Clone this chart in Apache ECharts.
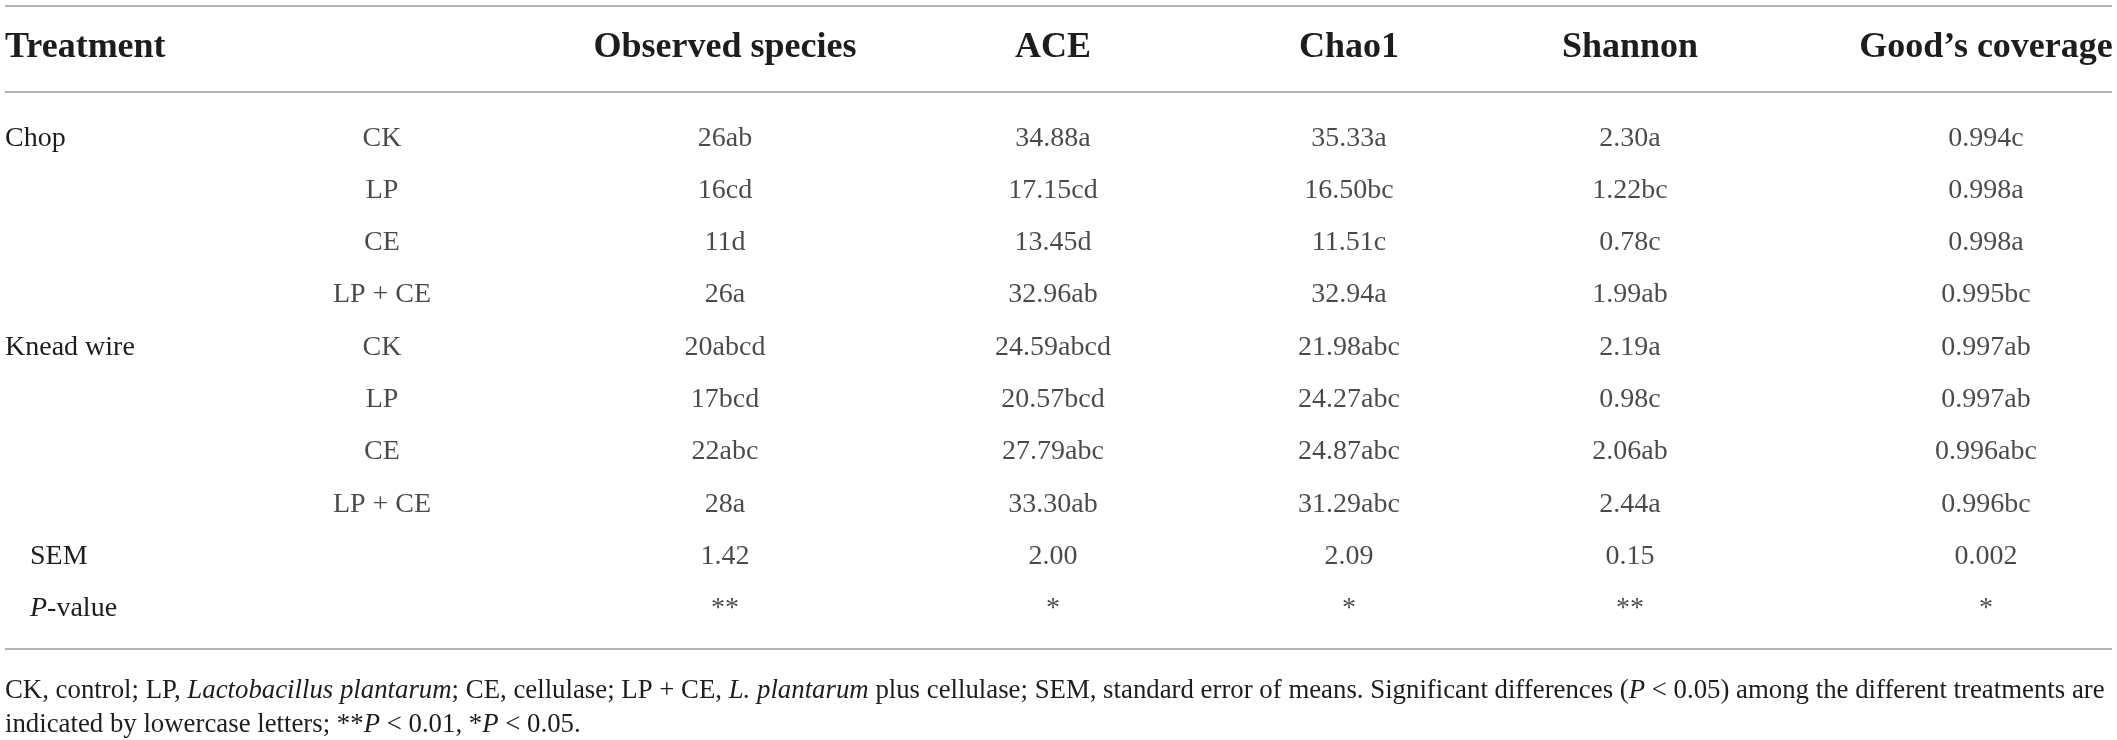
<!DOCTYPE html>
<html>
<head>
<meta charset="utf-8">
<title>Alpha diversity by treatment</title>
<script src="https://cdn.jsdelivr.net/npm/echarts@6/dist/echarts.min.js"></script>
<style>
  html, body { margin: 0; padding: 0; background: #fff; }
  #chart { width: 2117px; height: 740px; }
</style>
</head>
<body>
<div id="chart"></div>
<script>
// table content
const rowGroups = ["Chop", "", "", "", "Knead wire", "", "", "", "SEM", "P-value"];
const additives = ["CK", "LP", "CE", "LP + CE", "CK", "LP", "CE", "LP + CE", "", ""];
const headers = ["Treatment", "", "Observed species", "ACE", "Chao1", "Shannon", "Good’s coverage"];

const observedSpecies = ["26ab", "16cd", "11d", "26a", "20abcd", "17bcd", "22abc", "28a", "1.42", "**"];
const ace = ["34.88a", "17.15cd", "13.45d", "32.96ab", "24.59abcd", "20.57bcd", "27.79abc", "33.30ab", "2.00", "*"];
const chao1 = ["35.33a", "16.50bc", "11.51c", "32.94a", "21.98abc", "24.27abc", "24.87abc", "31.29abc", "2.09", "*"];
const shannon = ["2.30a", "1.22bc", "0.78c", "1.99ab", "2.19a", "0.98c", "2.06ab", "2.44a", "0.15", "**"];
const goodsCoverage = ["0.994c", "0.998a", "0.998a", "0.995bc", "0.997ab", "0.997ab", "0.996abc", "0.996bc", "0.002", "*"];

const columns = [additives, observedSpecies, ace, chao1, shannon, goodsCoverage];

// layout / style
const FONT = "Liberation Serif";
const INK = "#1f1c1d";
const RULE = "#b5b5b5";
const colCenters = [382, 725, 1053, 1349, 1630, 1986];
const cellWidth = 260;
const bodyTop = 112;
const bodyHeight = 523;
const headMargin = 46;
const noteSize = 26.8;

const rowKeys = rowGroups.map((_, i) => "r" + i);

const headLabel = {
  fontFamily: FONT,
  fontSize: 36,
  fontWeight: "bold",
  color: INK,
  margin: headMargin,
  interval: 0,
};

const grids = [{ left: 5, top: bodyTop, width: 300, height: bodyHeight }];
const xAxes = [
  {
    gridIndex: 0,
    type: "category",
    data: [headers[0], ""],
    boundaryGap: false,
    position: "top",
    axisLine: { show: false },
    axisTick: { show: false },
    axisLabel: Object.assign({}, headLabel, { align: "left" }),
  },
];
const yAxes = [
  {
    gridIndex: 0,
    type: "category",
    data: rowKeys,
    inverse: true,
    axisLine: { show: false },
    axisTick: { show: false },
    axisLabel: {
      interval: 0,
      align: "left",
      margin: 0,
      fontFamily: FONT,
      fontSize: 28,
      color: INK,
      formatter: function (v, i) {
        const g = rowGroups[i];
        if (g === "SEM") return "{ind|SEM}";
        if (g === "P-value") return "{indI|P}{n|-value}";
        return g;
      },
      rich: {
        ind: { fontFamily: FONT, fontSize: 28, color: INK, padding: [0, 0, 0, 25] },
        indI: { fontFamily: FONT, fontSize: 28, color: INK, fontStyle: "italic", padding: [0, 0, 0, 25] },
        n: { fontFamily: FONT, fontSize: 28, color: INK },
      },
    },
  },
];
const series = [];

columns.forEach(function (col, k) {
  const gi = k + 1;
  grids.push({ left: colCenters[k] - cellWidth / 2, top: bodyTop, width: cellWidth, height: bodyHeight });
  xAxes.push({
    gridIndex: gi,
    type: "category",
    data: [headers[k + 1]],
    position: "top",
    axisLine: { show: false },
    axisTick: { show: false },
    axisLabel: headLabel,
  });
  yAxes.push({
    gridIndex: gi,
    type: "category",
    data: rowKeys,
    inverse: true,
    show: false,
  });
  series.push({
    type: "scatter",
    xAxisIndex: gi,
    yAxisIndex: gi,
    symbolSize: 1,
    itemStyle: { color: "rgba(0,0,0,0)" },
    silent: true,
    data: col.map((v, i) => ({ value: [0, i], name: v })),
    label: {
      show: true,
      position: "inside",
      fontFamily: FONT,
      fontSize: 28,
      color: INK,
      formatter: (p) => p.name,
    },
  });
});

const ruleStyle = { stroke: RULE, lineWidth: 2 };
const noteRich = {
  r: { fontFamily: FONT, fontSize: noteSize, fill: INK },
  i: { fontFamily: FONT, fontSize: noteSize, fill: INK, fontStyle: "italic" },
};

const chart = echarts.init(document.getElementById("chart"));
chart.setOption({
  animation: false,
  backgroundColor: "#fff",
  grid: grids,
  xAxis: xAxes,
  yAxis: yAxes,
  series: series,
  graphic: [
    { type: "line", shape: { x1: 5, y1: 6, x2: 2112, y2: 6 }, style: ruleStyle },
    { type: "line", shape: { x1: 5, y1: 92, x2: 2112, y2: 92 }, style: ruleStyle },
    { type: "line", shape: { x1: 5, y1: 649, x2: 2112, y2: 649 }, style: ruleStyle },
    {
      type: "text",
      x: 5,
      y: 691,
      style: {
        text:
          "{r|CK, control; LP, }{i|Lactobacillus plantarum}{r|; CE, cellulase; LP + CE, }{i|L. plantarum}" +
          "{r| plus cellulase; SEM, standard error of means. Significant differences (}{i|P}" +
          "{r| < 0.05) among the different treatments are}",
        verticalAlign: "middle",
        fontFamily: FONT,
        fontSize: noteSize,
        fill: INK,
        rich: noteRich,
      },
    },
    {
      type: "text",
      x: 5,
      y: 725,
      style: {
        text: "{r|indicated by lowercase letters; **}{i|P}{r| < 0.01, *}{i|P}{r| < 0.05.}",
        verticalAlign: "middle",
        fontFamily: FONT,
        fontSize: noteSize,
        fill: INK,
        rich: noteRich,
      },
    },
  ],
});
</script>
</body>
</html>
